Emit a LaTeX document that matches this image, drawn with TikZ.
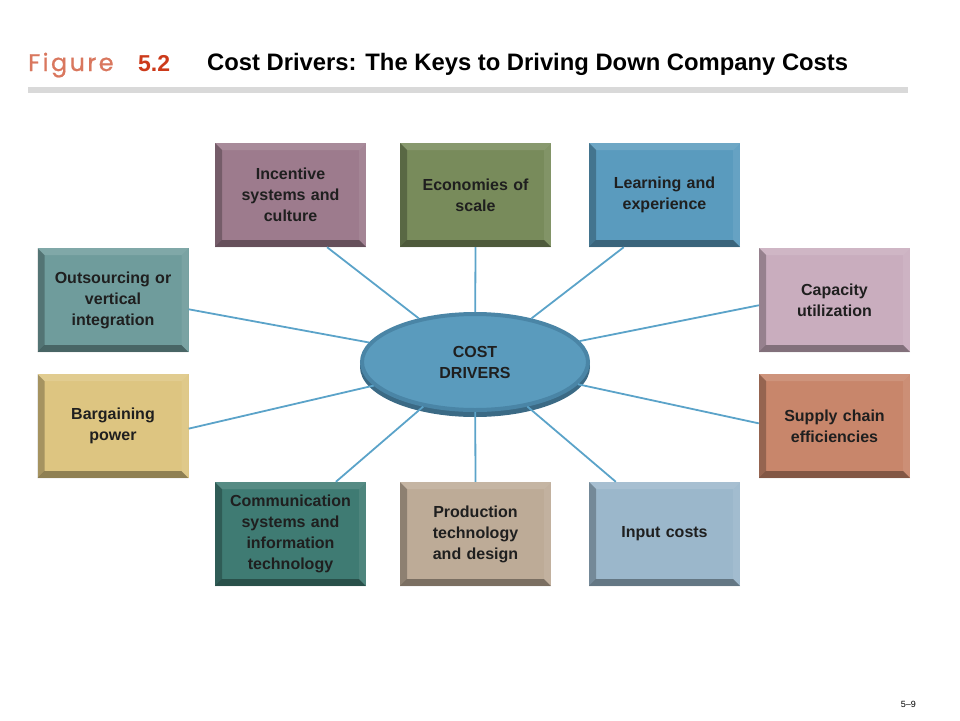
\documentclass[tikz,border=0pt]{standalone}
\usepackage{fontspec}
\setmainfont{Liberation Sans}
\newfontfamily\figfont[LetterSpace=10, FakeBold=0.8]{Poppins}
\usetikzlibrary{shapes.geometric}
\definecolor{linkblue}{HTML}{5BA3C9}
\definecolor{figsalmon}{HTML}{D9775E}
\definecolor{figred}{HTML}{CC3A1A}
\definecolor{ellfill}{HTML}{5A9BBD}
\definecolor{ellrim}{HTML}{4A85A6}
\definecolor{incentive}{HTML}{9D7B8D}
\definecolor{economies}{HTML}{788B5B}
\definecolor{learning}{HTML}{5A9BBE}
\definecolor{outsourcing}{HTML}{6F9C9C}
\definecolor{capacity}{HTML}{C9ADBE}
\definecolor{bargaining}{HTML}{DDC581}
\definecolor{supply}{HTML}{C8866B}
\definecolor{communication}{HTML}{3F7B73}
\definecolor{production}{HTML}{BDAB97}
\definecolor{input}{HTML}{9BB7CB}

\begin{document}
\begin{tikzpicture}[x=1pt, y=-1pt,
    driverbox/.style={rectangle, fill=#1, minimum width=151pt, minimum height=104pt,
        text width=140pt, align=center, inner sep=0pt, text=black!88,
        font=\bfseries\fontsize{16}{21}\selectfont,
        path picture={
            \coordinate (p1) at (path picture bounding box.south west);
            \coordinate (p3) at (path picture bounding box.north east);
            \coordinate (p2) at (p1 |- p3);
            \coordinate (p4) at (p3 |- p1);
            \fill[black, opacity=.25] (p1) -- (p2) -- ([shift={(7pt,-7pt)}]p2) -- ([shift={(7pt,7pt)}]p1) -- cycle;
            \fill[black, opacity=.35] (p1) -- (p4) -- ([shift={(-7pt,7pt)}]p4) -- ([shift={(7pt,7pt)}]p1) -- cycle;
            \fill[white, opacity=.12] (p2) -- (p3) -- ([shift={(-7pt,-7pt)}]p3) -- ([shift={(7pt,-7pt)}]p2) -- cycle;
            \fill[white, opacity=.08] (p4) -- (p3) -- ([shift={(-7pt,-7pt)}]p3) -- ([shift={(-7pt,7pt)}]p4) -- cycle;
        }},
    link/.style={draw=linkblue, line width=1.8pt}]
    \useasboundingbox (0,0) rectangle (960,720);

    \node[anchor=base west, text=figsalmon, font=\figfont\fontsize{24}{24}\selectfont, inner sep=0pt] (figword) at (28,71) {Figure};
    \node[anchor=base west, text=figred, font=\bfseries\fontsize{23}{23}\selectfont, inner sep=0pt] (fignum) at (138,71) {5.2};
    \node[anchor=base west, font=\bfseries\fontsize{23.8}{23.8}\selectfont, inner sep=0pt] (title) at (207,70) {Cost Drivers: The Keys to Driving Down Company Costs};
    \fill[black!15] (28,87) rectangle (908,93);
    \node[anchor=base east, font=\fontsize{9}{9}\selectfont, inner sep=0pt] (slide) at (916,707) {5--9};

    \fill[ellrim!80!black] (475,367) ellipse (115pt and 50pt);
    \node[ellipse, fill=ellfill, draw=ellrim, line width=4pt, minimum width=226pt, minimum height=96pt,
        align=center, text=black!88, font=\bfseries\fontsize{16}{21}\selectfont] (ctr) at (475,362) {COST\\DRIVERS};

    \node[driverbox=incentive] (inc) at (290.5,195) {Incentive\\systems and\\culture};
    \node[driverbox=economies] (eco) at (475.5,195) {Economies of\\scale};
    \node[driverbox=learning] (lea) at (664.5,195) {Learning and\\experience};
    \node[driverbox=outsourcing] (out) at (113,300) {Outsourcing or\\vertical\\integration};
    \node[driverbox=capacity] (cap) at (834.5,300) {Capacity\\utilization};
    \node[driverbox=bargaining] (bar) at (113,426) {Bargaining\\power};
    \node[driverbox=supply] (sup) at (834.5,426) {Supply chain\\efficiencies};
    \node[driverbox=communication] (com) at (290.5,534) {Communication\\systems and\\information\\technology};
    \node[driverbox=production] (pro) at (475.5,534) {Production\\technology\\and design};
    \node[driverbox=input] (inp) at (664.5,534) {Input costs};

    \draw[link] (ctr) -- (inc.-55);
    \draw[link] (ctr) -- (eco.south);
    \draw[link] (ctr) -- (lea.-128);
    \draw[link] (ctr) -- (out.-7);
    \draw[link] (ctr) -- (cap.184);
    \draw[link] (ctr) -- (bar.-2);
    \draw[link] (ctr) -- (sup.178);
    \draw[link] (ctr) -- (com.49);
    \draw[link] (ctr) -- (pro.north);
    \draw[link] (ctr) -- (inp.133);
\end{tikzpicture}
\end{document}
